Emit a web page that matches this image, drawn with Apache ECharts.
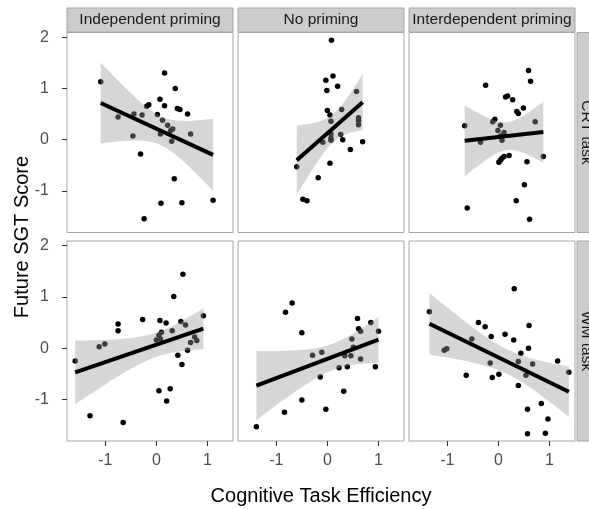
<!DOCTYPE html>
<html>
<head>
<meta charset="utf-8">
<script src="https://cdn.jsdelivr.net/npm/echarts@6/dist/echarts.min.js"></script>
<style>html,body{margin:0;padding:0;background:#fff;}#c{width:589px;height:509px;}</style>
</head>
<body>
<div id="c"></div>
<script>
// ---- data (x = Cognitive Task Efficiency, y = Future SGT Score) ----
const colLabels = ["Independent priming", "No priming", "Interdependent priming"];
const rowLabels = ["CRT task", "WM task"];
const xTicks = [-1, 0, 1];
const yTicks = [-1, 0, 1, 2];
const xLimits = [-1.75, 1.5];
const yLimits = [-1.81, 2.09];

const crtIndependent = [[-1.09,1.13],[0.16,1.30],[0.37,1.00],[0.07,0.79],[-0.19,0.65],[-0.15,0.68],[0.16,0.66],[0.41,0.61],[0.46,0.59],[0.61,0.50],[-0.75,0.44],[-0.44,0.50],[-0.28,0.48],[0.02,0.49],[0.12,0.38],[0.22,0.28],[0.32,0.21],[0.28,0.18],[0.08,0.11],[-0.46,0.07],[0.30,-0.03],[0.67,0.11],[-0.31,-0.28],[0.35,-0.76],[0.09,-1.24],[0.50,-1.23],[1.11,-1.18],[-0.24,-1.54]];
const crtNone = [[0.08,1.94],[0.11,1.24],[-0.03,1.16],[0.20,1.04],[-0.01,0.96],[0.57,0.94],[0.28,0.59],[0.00,0.57],[0.05,0.48],[0.07,0.36],[0.61,0.43],[0.61,0.37],[0.61,0.29],[0.26,0.10],[0.07,0.11],[0.07,0.03],[0.07,-0.01],[-0.09,-0.05],[0.30,0.00],[0.69,-0.04],[0.45,-0.19],[0.05,-0.46],[-0.60,-0.53],[-0.18,-0.74],[-0.48,-1.16],[-0.40,-1.19]];
const crtInterdependent = [[0.59,1.35],[0.63,1.14],[-0.25,1.06],[0.14,0.83],[0.18,0.85],[0.28,0.78],[0.36,0.55],[0.39,0.51],[0.49,0.62],[-0.07,0.40],[-0.11,0.35],[0.04,0.28],[-0.01,0.18],[0.11,0.14],[0.72,0.35],[-0.66,0.27],[-0.35,-0.05],[0.07,-0.01],[0.04,0.07],[0.21,-0.31],[0.11,-0.33],[0.07,-0.36],[0.04,-0.40],[0.01,-0.44],[0.88,-0.33],[0.56,-0.43],[0.51,-0.88],[0.35,-1.19],[-0.61,-1.33],[0.61,-1.55]];
const wmIndependent = [[-1.59,-0.25],[-1.12,0.03],[-1.01,0.08],[-0.75,0.47],[-0.75,0.34],[-0.27,0.56],[0.07,0.54],[0.19,0.49],[0.00,0.16],[0.05,0.25],[0.10,0.31],[0.08,0.18],[0.31,0.34],[0.52,1.44],[0.34,1.01],[0.48,0.52],[0.57,0.45],[0.92,0.63],[0.67,0.11],[0.75,0.22],[0.79,0.15],[0.61,-0.04],[0.42,-0.14],[0.50,-0.32],[0.05,-0.83],[0.27,-0.79],[0.20,-1.03],[-1.30,-1.32],[-0.65,-1.45]];
const wmNone = [[-0.69,0.88],[-0.82,0.70],[-0.50,0.30],[0.59,0.58],[0.85,0.50],[0.61,0.38],[0.65,0.33],[1.00,0.33],[0.48,0.18],[0.51,0.02],[-0.29,-0.14],[-0.11,-0.08],[0.34,-0.15],[0.46,-0.15],[0.65,-0.21],[0.23,-0.38],[0.39,-0.36],[0.94,-0.36],[-0.14,-0.56],[0.32,-0.84],[-0.50,-1.01],[-0.03,-1.19],[-0.84,-1.25],[-1.39,-1.53]];
const wmInterdependent = [[-1.35,0.71],[0.31,1.16],[-0.39,0.50],[-0.26,0.42],[-0.14,0.23],[0.13,0.27],[0.30,0.16],[0.60,0.44],[0.59,0.00],[0.44,-0.10],[-0.52,0.18],[-1.06,-0.04],[-1.01,-0.01],[-0.16,-0.29],[0.39,-0.26],[0.67,-0.31],[0.54,-0.53],[1.16,-0.25],[1.38,-0.47],[-0.63,-0.53],[-0.12,-0.57],[0.01,-0.51],[0.39,-0.73],[0.84,-1.08],[0.57,-1.19],[0.97,-1.38],[0.57,-1.67],[0.92,-1.66]];

const panels = [
  [crtIndependent, crtNone, crtInterdependent],
  [wmIndependent, wmNone, wmInterdependent]
];

// ---- linear model fit with 95% confidence band (like geom_smooth(method = "lm")) ----
function tq975(df) {
  const z = 1.959964;
  return z + (z*z*z + z) / (4*df) + (5*Math.pow(z,5) + 16*z*z*z + 3*z) / (96*df*df);
}
function lmFit(pts) {
  const n = pts.length;
  let mx = 0, my = 0;
  pts.forEach(p => { mx += p[0]; my += p[1]; });
  mx /= n; my /= n;
  let sxx = 0, sxy = 0;
  pts.forEach(p => { sxx += (p[0]-mx)*(p[0]-mx); sxy += (p[0]-mx)*(p[1]-my); });
  const b = sxy / sxx, a = my - b*mx;
  let sse = 0;
  pts.forEach(p => { const r = p[1] - (a + b*p[0]); sse += r*r; });
  const s = Math.sqrt(sse / (n-2));
  const t = tq975(n-2);
  const xs = pts.map(p => p[0]);
  const xmin = Math.min.apply(null, xs), xmax = Math.max.apply(null, xs);
  const band = [];
  const steps = 80;
  for (let i = 0; i <= steps; i++) {
    const x = xmin + (xmax - xmin) * i / steps;
    const f = a + b*x;
    const se = s * Math.sqrt(1/n + (x-mx)*(x-mx)/sxx);
    band.push([x, f - t*se, f + t*se]);
  }
  return { line: [[xmin, a + b*xmin], [xmax, a + b*xmax]], band: band };
}

// ---- layout ----
const colLeft = [67, 238, 409];
const panelW = 166;
const rowTop = [32.5, 241];
const panelH = 200;
const FONT = "'Liberation Sans', Arial, sans-serif";

const grids = [], xAxes = [], yAxes = [], series = [], graphics = [];
let gi = 0;
for (let r = 0; r < 2; r++) {
  for (let c = 0; c < 3; c++) {
    grids.push({ left: colLeft[c], top: rowTop[r], width: panelW, height: panelH,
      show: true, borderColor: '#A6A6A6', borderWidth: 1, backgroundColor: '#FFFFFF', containLabel: false });
    const showX = (r === 1), showY = (c === 0);
    xAxes.push({ type: 'value', gridIndex: gi, min: xLimits[0], max: xLimits[1], position: 'bottom',
      splitLine: { show: false }, axisLine: { show: false, onZero: false },
      axisTick: { show: showX, length: 5, customValues: xTicks, lineStyle: { color: '#333' } },
      axisLabel: { show: showX, customValues: xTicks, margin: 12, color: '#4D4D4D', fontSize: 16, fontFamily: FONT,
        formatter: v => String(v) } });
    yAxes.push({ type: 'value', gridIndex: gi, min: yLimits[0], max: yLimits[1], position: 'left',
      splitLine: { show: false }, axisLine: { show: false, onZero: false },
      axisTick: { show: showY, length: 5, customValues: yTicks, lineStyle: { color: '#333' } },
      axisLabel: { show: showY, customValues: yTicks, margin: 18, color: '#4D4D4D', fontSize: 16, fontFamily: FONT,
        formatter: v => String(v) } });
    const pts = panels[r][c];
    const fit = lmFit(pts);
    series.push({ type: 'scatter', xAxisIndex: gi, yAxisIndex: gi, data: pts, symbolSize: 5.5,
      itemStyle: { color: '#000', opacity: 1 }, z: 2, silent: true });
    const bandPts = fit.band;
    series.push({ type: 'custom', xAxisIndex: gi, yAxisIndex: gi, z: 3, silent: true,
      data: bandPts, encode: { x: 0, y: [1, 2] },
      renderItem: (function (bp) {
        return function (params, api) {
          if (params.dataIndex !== 0) return null;
          const poly = [];
          for (let i = 0; i < bp.length; i++) poly.push(api.coord([bp[i][0], bp[i][2]]));
          for (let i = bp.length - 1; i >= 0; i--) poly.push(api.coord([bp[i][0], bp[i][1]]));
          return { type: 'polygon', shape: { points: poly }, style: { fill: 'rgba(153,153,153,0.4)' } };
        };
      })(bandPts) });
    series.push({ type: 'line', xAxisIndex: gi, yAxisIndex: gi, data: fit.line, symbol: 'none', z: 4,
      lineStyle: { color: '#000', width: 4 }, silent: true });
    gi++;
  }
}

// strips (facet labels)
for (let c = 0; c < 3; c++) {
  graphics.push({ type: 'rect', shape: { x: colLeft[c], y: 8, width: panelW, height: 24 },
    style: { fill: '#CCCCCC', stroke: '#A6A6A6', lineWidth: 1 } });
  graphics.push({ type: 'text', x: colLeft[c] + panelW/2, y: 20,
    style: { text: colLabels[c], fill: '#1A1A1A', font: '15.5px ' + FONT, textAlign: 'center', textVerticalAlign: 'middle' } });
}
for (let r = 0; r < 2; r++) {
  graphics.push({ type: 'rect', shape: { x: 577, y: rowTop[r], width: 26, height: panelH },
    style: { fill: '#CCCCCC', stroke: '#A6A6A6', lineWidth: 1 } });
  graphics.push({ type: 'text', x: 586, y: rowTop[r] + panelH/2, rotation: -Math.PI/2,
    style: { text: rowLabels[r], fill: '#1A1A1A', font: '15.5px ' + FONT, textAlign: 'center', textVerticalAlign: 'middle' } });
}
// axis titles
graphics.push({ type: 'text', x: 321, y: 496,
  style: { text: 'Cognitive Task Efficiency', fill: '#000', font: '20px ' + FONT, textAlign: 'center', textVerticalAlign: 'middle' } });
graphics.push({ type: 'text', x: 22, y: 237, rotation: Math.PI/2,
  style: { text: 'Future SGT Score', fill: '#000', font: '20px ' + FONT, textAlign: 'center', textVerticalAlign: 'middle' } });

const chart = echarts.init(document.getElementById('c'), null, { renderer: 'canvas' });
chart.setOption({
  animation: false,
  backgroundColor: '#FFFFFF',
  grid: grids, xAxis: xAxes, yAxis: yAxes, series: series, graphic: graphics
});
</script>
</body>
</html>
